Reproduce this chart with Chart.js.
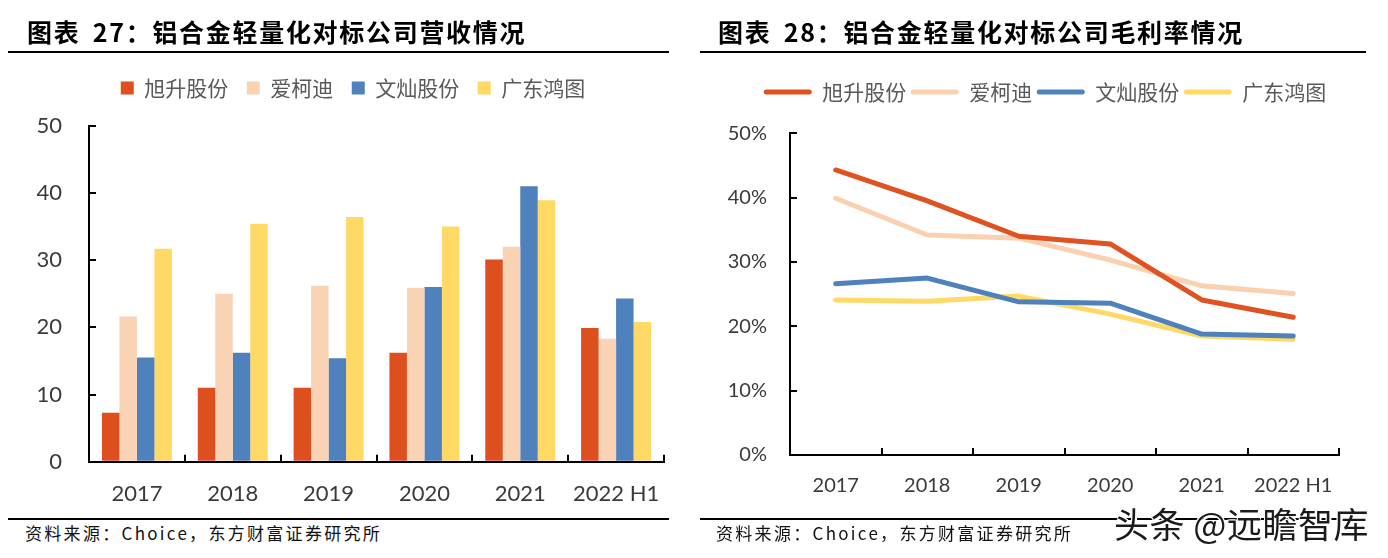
<!DOCTYPE html>
<html><head><meta charset="utf-8">
<script src="https://cdn.jsdelivr.net/npm/chart.js@4.4.0/dist/chart.umd.min.js"></script>
<style>
html,body{margin:0;padding:0;background:#fff;width:1388px;height:558px;overflow:hidden;}
body{position:relative;font-family:"Noto Sans CJK SC",sans-serif;}
.title{position:absolute;top:13px;font-weight:700;font-size:25px;letter-spacing:1.7px;color:#000;line-height:36px;white-space:nowrap;z-index:2;}
.title .n{margin-left:5px;}
.rule{position:absolute;height:2px;background:#000;z-index:1;}
.src{position:absolute;top:521px;font-size:17px;letter-spacing:2.3px;color:#111;line-height:24px;white-space:nowrap;z-index:2;}
.wm{position:absolute;left:1114px;top:500px;font-size:35px;color:#1a1a1a;line-height:46px;white-space:nowrap;z-index:3;letter-spacing:0.5px;
  text-shadow:2px 2px 0 #fff,-1px -1px 0 #fff,1px -1px 0 #fff,-1px 1px 0 #fff;}
canvas{position:absolute;top:0;}
</style></head><body>
<div class="title" style="left:27px;">图表<span class="n"> 27：</span>铝合金轻量化对标公司营收情况</div>
<div class="title" style="left:718px;">图表<span class="n"> 28：</span>铝合金轻量化对标公司毛利率情况</div>
<div class="rule" style="left:8px;width:661px;top:51px;"></div>
<div class="rule" style="left:700px;width:666px;top:51px;"></div>
<div style="position:absolute;left:0;top:0;width:690px;height:515px;"><canvas id="c1" width="690" height="515" style="left:0;width:690px;height:515px;"></canvas></div>
<div style="position:absolute;left:690px;top:0;width:698px;height:515px;"><canvas id="c2" width="698" height="515" style="left:0;width:698px;height:515px;"></canvas></div>
<div class="rule" style="left:8px;width:661px;top:518px;"></div>
<div class="rule" style="left:700px;width:666px;top:518px;"></div>
<div class="src" style="left:25px;">资料来源：Choice，东方财富证券研究所</div>
<div class="src" style="left:716px;">资料来源：Choice，东方财富证券研究所</div>
<div class="wm">头条 @远瞻智库</div>
<script>
// ---- data ----
const categories = ['2017', '2018', '2019', '2020', '2021', '2022 H1'];
const companies = ['旭升股份', '爱柯迪', '文灿股份', '广东鸿图'];
// revenue (亿元)
const revXusheng = [7.3, 11.0, 11.0, 16.2, 30.1, 19.9];
const revAikedi  = [21.6, 25.0, 26.2, 25.9, 32.0, 18.3];
const revWencan  = [15.5, 16.2, 15.4, 26.0, 41.0, 24.3];
const revHongtu  = [31.7, 35.4, 36.4, 35.0, 38.9, 20.8];
// gross margin
const gmXusheng = [0.443, 0.395, 0.340, 0.328, 0.241, 0.214];
const gmAikedi  = [0.399, 0.342, 0.337, 0.303, 0.263, 0.251];
const gmWencan  = [0.266, 0.275, 0.238, 0.236, 0.188, 0.185];
const gmHongtu  = [0.241, 0.239, 0.247, 0.219, 0.185, 0.180];
const revTicks = [0, 10, 20, 30, 40, 50];
const gmTicks = [0, 0.1, 0.2, 0.3, 0.4, 0.5];

const barColors = ['#DE4F1F', '#FAD3B4', '#4F81BD', '#FFD966'];
const lineColors = ['#E0521F', '#FBD0B0', '#4F81BD', '#FFD966'];

function legendBox(h, dx) {
  return {
    id: 'legendBox',
    beforeInit(chart) {
      const lg = chart.legend;
      if (!lg) return;
      const orig = lg.fit;
      lg.fit = function () { orig.call(this); this.height = h; };
    },
    afterLayout(chart) {
      const lg = chart.legend;
      if (!lg) return;
      lg.left += dx; lg.right += dx;
    }
  };
}

const tickFontL = {family: 'Lato', size: 22};
const tickFontR = {family: 'Lato', size: 20};
const labelColor = '#3a3a3a';

// ---- chart 1: revenue bars ----
new Chart(document.getElementById('c1'), {
  type: 'bar',
  data: {
    labels: categories,
    datasets: [revXusheng, revAikedi, revWencan, revHongtu].map((d, i) => ({
      label: companies[i], data: d, backgroundColor: barColors[i],
      borderWidth: 0, categoryPercentage: 0.73, barPercentage: 1.0
    }))
  },
  options: {
    animation: false, responsive: false, devicePixelRatio: 1,
    layout: {padding: {top: 59, left: 0, right: 26, bottom: 0}},
    plugins: {
      tooltip: {enabled: false},
      legend: {
        position: 'top',
        labels: {boxWidth: 13, boxHeight: 13, padding: 18.5, color: '#595959',
          font: {family: 'Noto Sans CJK SC', size: 21}}
      }
    },
    scales: {
      x: {
        grid: {display: true, drawOnChartArea: false, drawTicks: true, tickLength: -7, color: '#000', lineWidth: 2, offset: true},
        border: {display: true, color: '#000', width: 2},
        ticks: {color: labelColor, font: tickFontL, padding: 26, maxRotation: 0},
        afterFit(s) { s.height = 53.3; }
      },
      y: {
        min: 0, max: 50,
        afterBuildTicks(s) { s.ticks = revTicks.map(v => ({value: v})); },
        grid: {display: true, drawOnChartArea: false, drawTicks: true, tickLength: -7, color: '#000', lineWidth: 2},
        border: {display: true, color: '#000', width: 2},
        ticks: {color: labelColor, font: tickFontL, padding: 34},
        afterFit(s) { s.width = 89; }
      }
    }
  },
  plugins: [legendBox(66.7, 21)]
});

// ---- chart 2: gross margin lines ----
new Chart(document.getElementById('c2'), {
  type: 'line',
  data: {
    labels: categories,
    datasets: [gmXusheng, gmAikedi, gmWencan, gmHongtu].map((d, i) => ({
      label: companies[i], data: d, borderColor: lineColors[i], backgroundColor: lineColors[i],
      borderWidth: 5, pointRadius: 0, tension: 0, fill: false,
      borderCapStyle: 'round', borderJoinStyle: 'round'
    }))
  },
  options: {
    animation: false, responsive: false, devicePixelRatio: 1,
    layout: {padding: {top: 77, left: 0, right: 49, bottom: 0}},
    plugins: {
      tooltip: {enabled: false},
      legend: {
        position: 'top',
        labels: {
          boxWidth: 48, boxHeight: 5, padding: 4.5, color: '#595959', useBorderRadius: true, borderRadius: 2.5,
          font: {family: 'Noto Sans CJK SC', size: 21},
          generateLabels(chart) {
            const items = Chart.defaults.plugins.legend.labels.generateLabels(chart);
            items.forEach(it => { it.fillStyle = it.strokeStyle; it.lineWidth = 0; it.borderRadius = 2.5; });
            return items;
          }
        }
      }
    },
    scales: {
      x: {
        offset: true,
        grid: {display: true, drawOnChartArea: false, drawTicks: true, tickLength: -7, color: '#000', lineWidth: 2, offset: true},
        border: {display: true, color: '#000', width: 2},
        ticks: {color: labelColor, font: tickFontR, padding: 26, maxRotation: 0},
        afterFit(s) { s.height = 60; }
      },
      y: {
        min: 0, max: 0.5,
        afterBuildTicks(s) { s.ticks = gmTicks.map(v => ({value: v})); },
        grid: {display: true, drawOnChartArea: false, drawTicks: true, tickLength: -7, color: '#000', lineWidth: 2},
        border: {display: true, color: '#000', width: 2},
        ticks: {color: labelColor, font: tickFontR, padding: 30,
          callback: v => Math.round(v * 100) + '%'},
        afterFit(s) { s.width = 100; }
      }
    }
  },
  plugins: [legendBox(56.3, 30.5)]
});
</script>
</body></html>
